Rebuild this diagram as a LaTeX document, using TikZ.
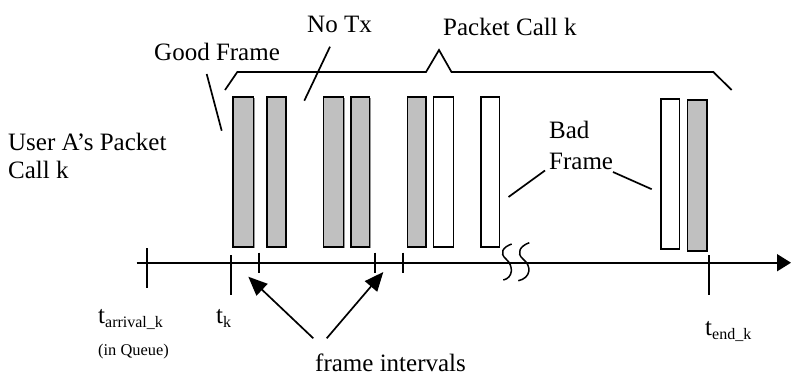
\documentclass[tikz,border=0pt]{standalone}
\usepackage{fontspec}
\setmainfont{Liberation Serif}
\usetikzlibrary{arrows.meta}
\definecolor{barg}{RGB}{192,192,192}
\definecolor{shad}{RGB}{150,150,150}
\begin{document}
\begin{tikzpicture}[x=1pt,y=-1pt,
  ln/.style={line width=1.7pt},
  goodbar/.style={draw, line width=1.6pt, fill=barg},
  badbar/.style={draw, line width=1.6pt, fill=white},
  lbl/.style={anchor=base west, inner sep=0pt, font=\fontsize{25}{29}\selectfont},
  small/.style={anchor=base west, inner sep=0pt, font=\fontsize{16.4}{19}\selectfont},
  tick/.style={line width=1.7pt},
  bigarrow/.style={line width=1.7pt, -{Triangle[length=19pt,width=16pt]}}]
\useasboundingbox (0,0) rectangle (791,376);
% bars
\foreach \a/\b/\t/\u in {232.7/253.3/96.7/246.7,266.7/285.7/96.7/246.7,323.3/343.3/96.7/246.7,350.7/369.3/96.7/246.7,407.3/425.7/96.7/246.7,687.3/706.7/100/250.7}{
  \fill[shad] (\a+1.5,\t+1.5) rectangle (\b+1.5,\u+1.5);
  \draw[goodbar] (\a,\t) rectangle (\b,\u);
}
\foreach \a/\b/\t/\u in {433.3/453.3/96.7/246.7,481/499.3/96.7/246.7,661/679.3/98.7/248.7}{
  \draw[badbar] (\a,\t) rectangle (\b,\u);
}
% brace
\coordinate (brL) at (225,90);
\coordinate (brR) at (731.7,90);
\coordinate (brP) at (439,50);
\draw[ln, line join=miter] (brL) -- (237.3,72) -- (426,72) -- (brP) -- (451.5,72) -- (713.3,72) -- (brR);
% axis
\coordinate (ax0) at (136.7,262.7);
\coordinate (ax1) at (791,262.7);
\draw[ln, -{Triangle[length=14pt,width=17pt]}] (ax0) -- (ax1);
% ticks
\draw[tick] (146.7,248.3) -- (146.7,288.3);
\draw[tick] (231,255) -- (231,295);
\draw[tick] (259,252.5) -- (259,273);
\draw[tick] (375.3,252.5) -- (375.3,273);
\draw[tick] (403.3,252.5) -- (403.3,273);
\draw[tick] (709.3,255) -- (709.3,295);
% break marks
\draw[line width=1.5pt] (511.7,244) .. controls (503,247) and (499,253) .. (506,259) .. controls (514,266) and (513,278) .. (503.3,280);
\draw[line width=1.5pt] (529.3,242.7) .. controls (520,246) and (516,253) .. (523,259) .. controls (532,266) and (531,278) .. (518.3,280.7);
% labels
\node[lbl] (good) at (154,60) {Good Frame};
\node[lbl] (notx) at (307,32) {No Tx};
\node[lbl] (pck) at (443,35) {Packet Call k};
\node[lbl] (userA) at (8,150) {User A’s Packet};
\node[lbl] (userB) at (8,178) {Call k};
\node[lbl] (bad1) at (549,138) {Bad};
\node[lbl] (bad2) at (549,169) {Frame};
\node[lbl] (tarr) at (98,323) {t\raisebox{-4pt}{\fontsize{16}{16}\selectfont arrival\_k}};
\node[small] (queue) at (98,355) {(in Queue)};
\node[lbl] (tk) at (216,323) {t\raisebox{-4pt}{\fontsize{16}{16}\selectfont k}};
\node[lbl] (tend) at (705,335) {t\raisebox{-4pt}{\fontsize{16}{16}\selectfont end\_k}};
\node[lbl] (fi) at (315,371) {frame intervals};
% leaders
\draw[ln] (206.7,74) -- (221.7,130.7);
\draw[ln] (330,46.7) -- (304.3,100.7);
\draw[ln] (545,170.5) -- (508.5,197);
\draw[ln] (613,172) -- (651.7,189.2);
% frame interval arrows
\coordinate (fa1) at (313.3,338.3);
\coordinate (fa2) at (326.7,338.3);
\coordinate (fi1) at (248.3,276.7);
\coordinate (fi2) at (383.3,272);
\draw[bigarrow] (fa1) -- (fi1);
\draw[bigarrow] (fa2) -- (fi2);
\end{tikzpicture}
\end{document}
